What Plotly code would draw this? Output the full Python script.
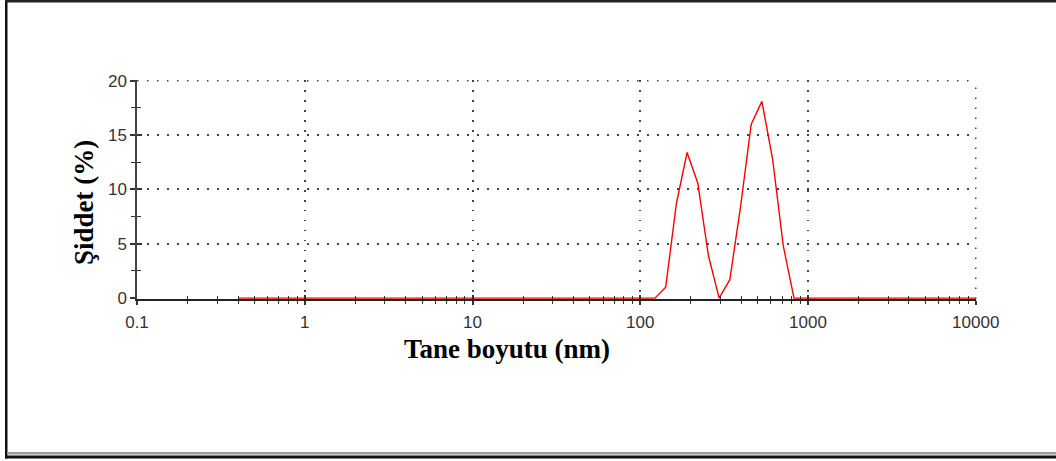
import math
import plotly.graph_objects as go

# ---------------- data ----------------
size_nm = [0.4, 0.4632, 0.5365, 0.6213, 0.7195, 0.8332, 0.9649,
           1.117, 1.294, 1.499, 1.736, 2.01, 2.328, 2.696, 3.122, 3.615, 4.187, 4.849, 5.615, 6.503, 7.531, 8.721,
           10.1, 11.7, 13.54, 15.69, 18.17, 21.04, 24.36, 28.21, 32.67, 37.84, 43.82, 50.75, 58.77, 68.06, 78.82, 91.28,
           105.7, 122.4, 141.8, 164.2, 190.1, 220.2, 255.0, 295.3, 342.0, 396.1, 458.7, 531.2, 615.1, 712.4, 825.0, 955.4,
           1106, 1281, 1484, 1718, 1990, 2305, 2669, 3091, 3580, 4145, 4801, 5560, 6439, 7456, 8635, 10000]
intensity_pct = [0, 0, 0, 0, 0, 0, 0,
                 0, 0, 0, 0, 0, 0, 0, 0, 0, 0, 0, 0, 0, 0, 0,
                 0, 0, 0, 0, 0, 0, 0, 0, 0, 0, 0, 0, 0, 0, 0, 0,
                 0, 0, 1.0, 8.7, 13.4, 10.6, 3.9, 0, 1.7, 8.4, 16.0, 18.1, 12.8, 4.8, 0, 0,
                 0, 0, 0, 0, 0, 0, 0, 0, 0, 0, 0, 0, 0, 0, 0, 0]

x_tick_vals = [0.1, 1, 10, 100, 1000, 10000]
x_tick_text = ["0.1", "1", "10", "100", "1000", "10000"]
x_minor_vals = [m * d for d in [0.1, 1, 10, 100, 1000] for m in range(2, 10)]
y_tick_vals = [0, 5, 10, 15, 20]

x_title = "Tane boyutu (nm)"
y_title = "Şiddet (%)"

# ---------------- layout geometry ----------------
W, H = 1056, 461
L, R, T, B = 137, 976, 80, 299


def px(xp):
    return (xp - L) / (R - L)


def py(yp):
    return (B - yp) / (B - T)


tick_font = dict(family="Liberation Sans, Arial, sans-serif", size=17, color="#333333")
title_font = dict(family="Liberation Serif, Times New Roman, serif", size=27, color="#000000")
grid_dash = "1.5px,8.5px"
grid_color = "#444444"

yr = [-0.08, 20.07]
xr = [-1, 4.0015]

fig = go.Figure()
fig.add_trace(go.Scatter(x=size_nm, y=intensity_pct, mode="lines",
                         line=dict(color="#ff0000", width=1.4), showlegend=False,
                         hoverinfo="x+y"))
# invisible copy to make overlay axes (inner half of crossing ticks) render
fig.add_trace(go.Scatter(x=size_nm, y=intensity_pct, mode="lines", xaxis="x2", yaxis="y2",
                         line=dict(color="rgba(0,0,0,0)", width=0), showlegend=False,
                         hoverinfo="skip"))

# paper positions of the edge grid lines (plotly drops grid lines at the range ends)
top_grid_paper = (y_tick_vals[-1] - yr[0]) / (yr[1] - yr[0])
right_grid_paper = (math.log10(x_tick_vals[-1]) - xr[0]) / (xr[1] - xr[0])

fig.update_layout(
    width=W, height=H,
    margin=dict(l=L, r=W - R, t=T, b=H - B, pad=0),
    paper_bgcolor="white", plot_bgcolor="white",
    xaxis=dict(type="log", range=xr, tickvals=x_tick_vals, ticktext=x_tick_text,
               ticks="outside", ticklen=4, tickwidth=1.5, tickcolor="#333333",
               showline=True, linecolor="#222222", linewidth=1.5,
               showgrid=True, gridcolor=grid_color, gridwidth=1.5, griddash=grid_dash,
               zeroline=False, tickfont=tick_font, ticklabelstandoff=3,
               minor=dict(tickvals=x_minor_vals, ticks="outside", ticklen=3,
                          tickwidth=1.3, tickcolor="#333333", showgrid=False)),
    yaxis=dict(range=yr, tickvals=y_tick_vals,
               ticks="outside", ticklen=5, tickwidth=1.5, tickcolor="#333333",
               showline=True, linecolor="#444444", linewidth=1.5,
               showgrid=True, gridcolor=grid_color, gridwidth=1.5, griddash=grid_dash,
               zeroline=False, tickfont=tick_font,
               minor=dict(dtick=2.5, ticks="outside", ticklen=4,
                          tickwidth=1.3, tickcolor="#333333", showgrid=False)),
    xaxis2=dict(type="log", range=xr, overlaying="x", anchor="y2", side="bottom",
                tickvals=x_tick_vals, showticklabels=False,
                ticks="inside", ticklen=4, tickwidth=1.5, tickcolor="#333333",
                showline=False, showgrid=False, zeroline=False,
                minor=dict(tickvals=x_minor_vals, ticks="inside", ticklen=3,
                           tickwidth=1.3, tickcolor="#333333", showgrid=False)),
    yaxis2=dict(range=yr, overlaying="y", anchor="x2", side="left",
                tickvals=y_tick_vals, showticklabels=False,
                ticks="inside", ticklen=5, tickwidth=1.5, tickcolor="#333333",
                showline=False, showgrid=False, zeroline=False,
                minor=dict(dtick=2.5, ticks="inside", ticklen=4,
                           tickwidth=1.3, tickcolor="#333333", showgrid=False)),
    annotations=[
        dict(text="<b>%s</b>" % x_title, xref="paper", yref="paper",
             x=px(507), y=py(349), xanchor="center", yanchor="middle",
             showarrow=False, font=title_font),
        dict(text="<b>%s</b>" % y_title, xref="paper", yref="paper",
             x=px(84), y=py(203), xanchor="center", yanchor="middle",
             textangle=-90, showarrow=False, font=title_font),
    ],
    shapes=[
        # edge grid lines (top at 20 %, right at 10000 nm)
        dict(type="line", xref="paper", yref="paper", x0=0, x1=right_grid_paper,
             y0=top_grid_paper, y1=top_grid_paper,
             line=dict(color=grid_color, width=1.5, dash=grid_dash), layer="below"),
        dict(type="line", xref="paper", yref="paper", x0=right_grid_paper, x1=right_grid_paper,
             y0=0, y1=top_grid_paper,
             line=dict(color=grid_color, width=1.5, dash=grid_dash), layer="below"),
        # outer picture frame
        dict(type="rect", xref="paper", yref="paper", x0=px(5), x1=px(7.5), y0=py(458.5), y1=py(0),
             fillcolor="#111111", line=dict(width=0), layer="above"),
        dict(type="rect", xref="paper", yref="paper", x0=px(5), x1=px(1056), y0=py(2.5), y1=py(0),
             fillcolor="#222222", line=dict(width=0), layer="above"),
        dict(type="rect", xref="paper", yref="paper", x0=px(7), x1=px(1056), y0=py(454.5), y1=py(452),
             fillcolor="#9a9a9a", line=dict(width=0), layer="above"),
        dict(type="rect", xref="paper", yref="paper", x0=px(5), x1=px(1056), y0=py(458.5), y1=py(455.5),
             fillcolor="#111111", line=dict(width=0), layer="above"),
    ],
)

fig.write_html("out.html")
